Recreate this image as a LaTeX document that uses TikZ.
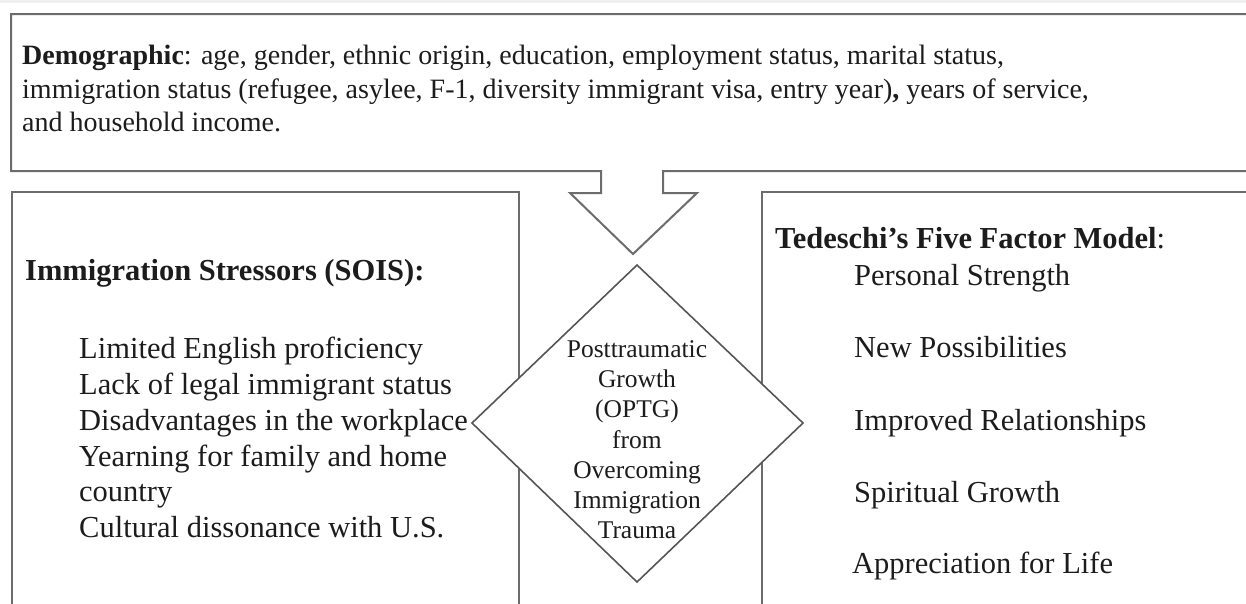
\documentclass[tikz,border=0pt]{standalone}
\usepackage{fontspec}
\setmainfont{Liberation Serif}
\definecolor{boxgray}{HTML}{6C6C6C}
\definecolor{diamgray}{HTML}{555555}
\definecolor{ink}{HTML}{1C1C1C}
\begin{document}
\begin{tikzpicture}[x=1pt,y=-1pt,
  boxline/.style={draw=boxgray,line width=2pt,line join=miter},
  diamline/.style={draw=diamgray,line width=1.6pt,fill=white,line join=miter},
  toptext/.style={anchor=base west,inner sep=0pt,text=ink,font=\fontsize{28}{33}\selectfont},
  sidetext/.style={anchor=base west,inner sep=0pt,text=ink,font=\fontsize{30.5}{36}\selectfont},
  coretext/.style={anchor=base,inner sep=0pt,text=ink,font=\fontsize{25.5}{30}\selectfont}]
\useasboundingbox (0,0) rectangle (1246,603);
\clip (0,0) rectangle (1246,603);

% faint strip along the top edge
\fill[gray!12] (0,0) rectangle (1246,3);

% demographic box, its lower edge turning into the downward arrow
\draw[boxline] (1260,14) -- (11,14) -- (11,171) -- (601,171) -- (601,193)
  -- (570,193) -- (633,254) coordinate (arrowtip) -- (697,193) -- (663,193)
  -- (663,171) -- (1260,171);

% side boxes, open past the lower edge
\draw[boxline] (12,620) -- (12,192) -- (519,192) -- (519,620);
\draw[boxline] (1260,192) -- (762,192) -- (762,620);

% central diamond
\coordinate (dtop) at (637,265);
\coordinate (dright) at (803,423);
\coordinate (dbottom) at (637,582);
\coordinate (dleft) at (472,423);
\draw[diamline] (dtop) -- (dright) -- (dbottom) -- (dleft) -- cycle;

% demographic text
\node[toptext] (demo1) at (22,64) {\textbf{Demographic}: age, gender, ethnic origin, education, employment status, marital status,};
\node[toptext] (demo2) at (22,98) {immigration status (refugee, asylee, F-1, diversity immigrant visa, entry year)\textbf{,} years of service,};
\node[toptext] (demo3) at (22,131) {and household income.};

% stressors
\node[sidetext] (sois) at (25,280) {\textbf{Immigration Stressors (SOIS):}};
\node[sidetext] (s1) at (79,358) {Limited English proficiency};
\node[sidetext] (s2) at (79,394) {Lack of legal immigrant status};
\node[sidetext] (s3) at (79,430) {Disadvantages in the workplace};
\node[sidetext] (s4) at (79,466) {Yearning for family and home};
\node[sidetext] (s5) at (79,501) {country};
\node[sidetext] (s6) at (79,537) {Cultural dissonance with U.S.};

% five factor model
\node[sidetext] (ffm) at (775,248) {\textbf{Tedeschi’s Five Factor Model}:};
\node[sidetext] (f1) at (854,285) {Personal Strength};
\node[sidetext] (f2) at (854,357) {New Possibilities};
\node[sidetext] (f3) at (854,430) {Improved Relationships};
\node[sidetext] (f4) at (854,502) {Spiritual Growth};
\node[sidetext] (f5) at (852,573) {Appreciation for Life};

% diamond label
\node[coretext] (c1) at (637,357) {Posttraumatic};
\node[coretext] (c2) at (637,387) {Growth};
\node[coretext] (c3) at (637,417) {(OPTG)};
\node[coretext] (c4) at (637,448) {from};
\node[coretext] (c5) at (637,478) {Overcoming};
\node[coretext] (c6) at (637,508) {Immigration};
\node[coretext] (c7) at (637,538) {Trauma};
\end{tikzpicture}
\end{document}
